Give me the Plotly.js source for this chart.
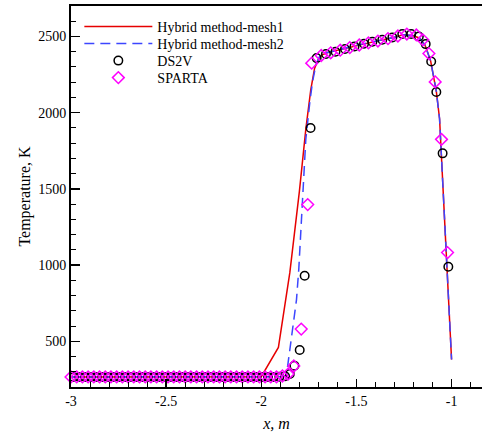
<!DOCTYPE html>
<html>
<head>
<meta charset="utf-8">
<script src="https://cdn.plot.ly/plotly-3.0.1.min.js"></script>
<style>html,body{margin:0;padding:0;background:#fff;}#chart{width:482px;height:441px;}</style>
</head>
<body>
<div id="chart"></div>
<script>
// Hybrid method - mesh1 (red solid)
const mesh1X = [-3.0, -2.5, -2.0, -1.91, -1.85, -1.80, -1.766, -1.74, -1.72, -1.70, -1.68, -1.65, -1.6, -1.5, -1.4, -1.3, -1.25, -1.2, -1.17, -1.14, -1.11, -1.08, -1.063, -1.03, -1.0];
const mesh1T = [266, 266, 268, 460, 950, 1480, 1890, 2150, 2290, 2350, 2380, 2395, 2410, 2443, 2468, 2495, 2512, 2505, 2490, 2445, 2340, 2140, 1960, 1130, 380];

// Hybrid method - mesh2 (blue dashed)
const mesh2X = [-3.0, -2.5, -2.0, -1.9, -1.868, -1.85, -1.829, -1.815, -1.803, -1.789, -1.78, -1.766, -1.745, -1.731, -1.712, -1.693, -1.67, -1.65, -1.6, -1.5, -1.4, -1.3, -1.25, -1.2, -1.17, -1.14, -1.11, -1.08, -1.063, -1.03, -1.0];
const mesh2T = [266, 266, 266, 268, 275, 443, 621, 772, 970, 1279, 1560, 1825, 2068, 2200, 2320, 2371, 2390, 2395, 2410, 2443, 2468, 2495, 2512, 2505, 2490, 2445, 2340, 2140, 1960, 1130, 380];

// DS2V (black open circles)
const ds2vX = [-2.985, -2.955, -2.925, -2.895, -2.865, -2.835, -2.805, -2.775, -2.745, -2.715, -2.685, -2.655, -2.625, -2.595, -2.565, -2.535, -2.505, -2.475, -2.445, -2.415, -2.385, -2.355, -2.325, -2.295, -2.265, -2.235, -2.205, -2.175, -2.145, -2.115, -2.085, -2.055, -2.025, -1.995, -1.965, -1.935, -1.905, -1.875, -1.85, -1.826, -1.798, -1.772, -1.741, -1.709, -1.66, -1.61, -1.56, -1.51, -1.46, -1.416, -1.364, -1.311, -1.259, -1.212, -1.172, -1.136, -1.107, -1.080, -1.047, -1.017];
const ds2vT = [266, 266, 266, 266, 266, 266, 266, 266, 266, 266, 266, 266, 266, 266, 266, 266, 266, 266, 266, 266, 266, 266, 266, 266, 266, 266, 266, 266, 266, 266, 266, 266, 266, 266, 266, 266, 267, 270, 285, 340, 443, 930, 1900, 2358, 2385, 2400, 2418, 2435, 2452, 2465, 2478, 2494, 2516, 2516, 2500, 2450, 2336, 2136, 1733, 989];

// SPARTA (magenta open diamonds)
const spartaX = [-3.00, -2.97, -2.94, -2.91, -2.88, -2.85, -2.82, -2.79, -2.76, -2.73, -2.70, -2.67, -2.64, -2.61, -2.58, -2.55, -2.52, -2.49, -2.46, -2.43, -2.40, -2.37, -2.34, -2.31, -2.28, -2.25, -2.22, -2.19, -2.16, -2.13, -2.10, -2.07, -2.04, -2.01, -1.98, -1.95, -1.92, -1.889, -1.859, -1.829, -1.790, -1.756, -1.735, -1.685, -1.635, -1.585, -1.535, -1.485, -1.437, -1.387, -1.334, -1.282, -1.235, -1.185, -1.151, -1.119, -1.086, -1.053, -1.021];
const spartaT = [266, 266, 266, 266, 266, 266, 266, 266, 266, 266, 266, 266, 266, 266, 266, 266, 266, 266, 266, 266, 266, 266, 266, 266, 266, 266, 266, 266, 266, 266, 266, 266, 266, 266, 266, 266, 266, 272, 285, 338, 580, 1397, 2325, 2375, 2393, 2410, 2427, 2444, 2458, 2470, 2486, 2503, 2516, 2510, 2478, 2388, 2202, 1825, 1082];

const xTickVals = [-3, -2.5, -2, -1.5, -1];
const xTickText = ['-3', '-2.5', '-2', '-1.5', '-1'];
const yTickVals = [500, 1000, 1500, 2000, 2500];

const FONT = 'Liberation Serif, Times New Roman, serif';

const traces = [
  {x: mesh1X, y: mesh1T, name: 'Hybrid method-mesh1', mode: 'lines', type: 'scatter', legend: 'legend',
   line: {color: '#e60000', width: 1.5}},
  {x: mesh2X, y: mesh2T, name: 'Hybrid method-mesh2', mode: 'lines', type: 'scatter', legend: 'legend2',
   line: {color: '#3c46ff', width: 1.5, dash: '10px,6px'}},
  {x: ds2vX, y: ds2vT, name: 'DS2V', mode: 'markers', type: 'scatter', cliponaxis: false, legend: 'legend3',
   marker: {symbol: 'circle-open', size: 8.5, color: '#000', line: {width: 1.5, color: '#000'}}},
  {x: spartaX, y: spartaT, name: 'SPARTA', mode: 'markers', type: 'scatter', cliponaxis: false, legend: 'legend4',
   marker: {symbol: 'diamond-open', size: 9, color: '#ff00ff', line: {width: 1.5, color: '#ff00ff'}}}
];

function leg(y) {
  return {x: 0.0203, y: y, xanchor: 'left', yanchor: 'top', bgcolor: 'rgba(0,0,0,0)',
          borderwidth: 0, font: {family: FONT, size: 14, color: '#000'}, itemwidth: 68};
}

const layout = {
  width: 482, height: 441,
  margin: {l: 71, r: 0, t: 6, b: 54, pad: 0},
  paper_bgcolor: '#fff', plot_bgcolor: '#fff',
  font: {family: FONT, size: 14, color: '#000'},
  showlegend: true,
  legend: leg(0.9869),
  legend2: leg(0.9423),
  legend3: leg(0.8976),
  legend4: leg(0.853),
  xaxis: {
    range: [-3, -0.84], showgrid: false, zeroline: false,
    tickvals: xTickVals, ticktext: xTickText,
    ticks: 'inside', ticklen: 8, tickwidth: 1.5, tickcolor: '#000',
    minor: {dtick: 0.1, tick0: -3, ticks: 'inside', ticklen: 5, tickwidth: 1, tickcolor: '#000'},
    showline: true, linewidth: 2, linecolor: '#000', mirror: true,
    tickfont: {family: FONT, size: 14},
    title: {text: '<i>x, m</i>', font: {family: FONT, size: 16}, standoff: 10}
  },
  yaxis: {
    range: [200, 2700], showgrid: false, zeroline: false,
    tickvals: yTickVals,
    ticks: 'inside', ticklen: 9, tickwidth: 1.5, tickcolor: '#000',
    minor: {dtick: 100, tick0: 0, ticks: 'inside', ticklen: 5, tickwidth: 1, tickcolor: '#000'},
    showline: true, linewidth: 2, linecolor: '#000', mirror: false,
    tickfont: {family: FONT, size: 14},
    title: {text: 'Temperature, K', font: {family: FONT, size: 16}, standoff: 4}
  }
};

Plotly.newPlot('chart', traces, layout, {staticPlot: true, displayModeBar: false});
</script>
</body>
</html>
